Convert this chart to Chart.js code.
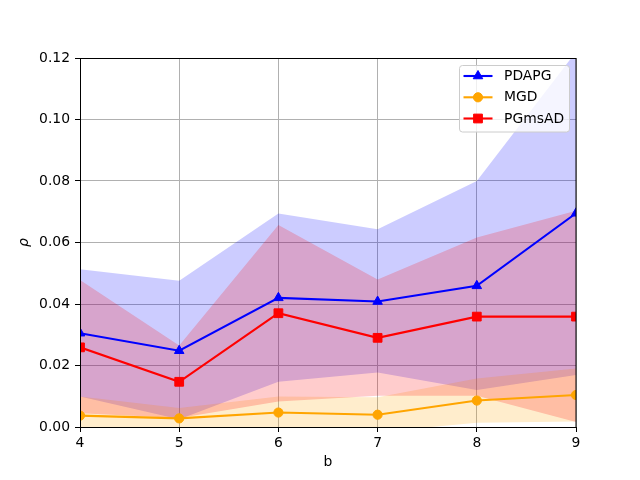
<!DOCTYPE html>
<html>
<head>
<meta charset="utf-8">
<script src="https://cdn.jsdelivr.net/npm/chart.js@4"></script>
<style>
html,body{margin:0;padding:0;background:#fff;}
#wrap{width:640px;height:480px;}
</style>
</head>
<body>
<div id="wrap"><canvas id="c" width="640" height="480"></canvas></div>
<script>
// ---- data ----
const bValues = [4, 5, 6, 7, 8, 9];
const seriesNames = ['PDAPG', 'MGD', 'PGmsAD'];

const pdapgMean  = [0.0305, 0.0248, 0.0420, 0.0408, 0.0459, 0.0695];
const pdapgUpper = [0.0513, 0.0476, 0.0694, 0.0643, 0.0800, 0.1220];
const pdapgLower = [0.0099, 0.0025, 0.0147, 0.0177, 0.0120, 0.0169];

const mgdMean  = [0.0037, 0.0028, 0.0047, 0.0040, 0.0086, 0.0104];
const mgdUpper = [0.0099, 0.0062, 0.0099, 0.0097, 0.0158, 0.0190];
const mgdLower = [-0.0025, -0.0006, -0.0005, -0.0017, 0.0014, 0.0018];

const pgmsadMean  = [0.0259, 0.0147, 0.0370, 0.0290, 0.0359, 0.0359];
const pgmsadUpper = [0.0478, 0.0265, 0.0657, 0.0480, 0.0616, 0.0703];
const pgmsadLower = [0.0045, 0.0029, 0.0083, 0.0102, 0.0102, 0.0016];

const xTicks = [4, 5, 6, 7, 8, 9];
const yTicks = [0.00, 0.02, 0.04, 0.06, 0.08, 0.10, 0.12];
const xTitle = 'b';
const yTitle = 'ρ';

// ---- styling ----
const colors = ['#0000ff', '#ffa500', '#ff0000'];
const fills  = ['rgba(0,0,255,0.2)', 'rgba(255,165,0,0.2)', 'rgba(255,0,0,0.2)'];
const markers = ['triangle', 'circle', 'rect'];
const markerR = [5.5, 4.6, 6.2];
const FONT = 'DejaVu Sans';

function pts(arr) { return bValues.map((x, i) => ({x: x, y: arr[i]})); }

const means  = [pdapgMean, mgdMean, pgmsadMean];
const uppers = [pdapgUpper, mgdUpper, pgmsadUpper];
const lowers = [pdapgLower, mgdLower, pgmsadLower];

const datasets = [];
// line datasets: indices 0..2 (red drawn on top)
for (let s = 0; s < 3; s++) {
  datasets.push({
    label: seriesNames[s],
    data: pts(means[s]),
    borderColor: colors[s],
    backgroundColor: colors[s],
    borderWidth: 2.1,
    pointStyle: markers[s],
    pointRadius: markerR[s],
    pointBorderWidth: 1,
    pointBorderColor: colors[s],
    pointBackgroundColor: colors[s],
    fill: false,
    tension: 0,
    order: 2 - s
  });
}
// band datasets: upper at 3+2s, lower at 4+2s
for (let s = 0; s < 3; s++) {
  const loIdx = 4 + 2 * s;
  datasets.push({
    label: seriesNames[s] + ' upper',
    data: pts(uppers[s]),
    borderColor: 'rgba(0,0,0,0)',
    borderWidth: 0,
    pointRadius: 0,
    backgroundColor: fills[s],
    fill: {target: loIdx},
    tension: 0,
    order: 10 - s
  });
  datasets.push({
    label: seriesNames[s] + ' lower',
    data: pts(lowers[s]),
    borderColor: 'rgba(0,0,0,0)',
    borderWidth: 0,
    pointRadius: 0,
    fill: false,
    tension: 0,
    order: 10 - s
  });
}

const framePlugin = {
  id: 'frame',
  afterDraw(chart) {
    const ctx = chart.ctx, a = chart.chartArea;
    ctx.save();
    ctx.strokeStyle = '#000';
    ctx.lineWidth = 1;
    ctx.strokeRect(Math.round(a.left) + 0.5, Math.round(a.top) + 0.5,
                   Math.round(a.right - a.left) - 0.5, Math.round(a.bottom - a.top));
    // legend
    const lx = 459.5, ly = 65.5, lw = 110, lh = 66.5, r = 3;
    ctx.fillStyle = 'rgba(255,255,255,0.8)';
    ctx.strokeStyle = '#cccccc';
    ctx.beginPath();
    ctx.moveTo(lx + r, ly);
    ctx.lineTo(lx + lw - r, ly); ctx.quadraticCurveTo(lx + lw, ly, lx + lw, ly + r);
    ctx.lineTo(lx + lw, ly + lh - r); ctx.quadraticCurveTo(lx + lw, ly + lh, lx + lw - r, ly + lh);
    ctx.lineTo(lx + r, ly + lh); ctx.quadraticCurveTo(lx, ly + lh, lx, ly + lh - r);
    ctx.lineTo(lx, ly + r); ctx.quadraticCurveTo(lx, ly, lx + r, ly);
    ctx.closePath();
    ctx.fill(); ctx.stroke();
    const rows = [76, 97.3, 118.5];
    ctx.font = '13.9px "' + FONT + '"';
    ctx.textBaseline = 'middle';
    ctx.textAlign = 'left';
    for (let s = 0; s < 3; s++) {
      const y = rows[s];
      ctx.strokeStyle = colors[s];
      ctx.lineWidth = 2.1;
      ctx.beginPath(); ctx.moveTo(463.5, y); ctx.lineTo(492.5, y); ctx.stroke();
      ctx.save();
      ctx.fillStyle = colors[s];
      ctx.strokeStyle = colors[s];
      ctx.lineWidth = 1;
      Chart.helpers.drawPoint(ctx, {pointStyle: markers[s], radius: markerR[s], rotation: 0, borderWidth: 1}, 478, y);
      ctx.restore();
      ctx.fillStyle = '#000';
      ctx.fillText(seriesNames[s], 504, y + 0.5);
    }
    ctx.restore();
  }
};

new Chart(document.getElementById('c'), {
  type: 'line',
  data: {datasets: datasets},
  plugins: [framePlugin],
  options: {
    responsive: false,
    animation: false,
    devicePixelRatio: 1,
    layout: {padding: {left: 0, top: 58, right: 64, bottom: 0}},
    plugins: {
      legend: {display: false},
      tooltip: {enabled: false},
      filler: {drawTime: 'beforeDatasetsDraw', propagate: false}
    },
    scales: {
      x: {
        type: 'linear',
        min: 4, max: 9,
        afterFit(scale) { scale.height = 53; },
        afterBuildTicks(scale) { scale.ticks = xTicks.map(v => ({value: v})); },
        ticks: {
          color: '#000',
          font: {family: FONT, size: 13.9},
          padding: 3,
          maxRotation: 0,
          callback: v => String(v)
        },
        grid: {color: '#b0b0b0', lineWidth: 1, tickColor: '#000', tickLength: 5, drawTicks: true},
        border: {display: true, color: '#000'},
        title: {display: true, text: xTitle, color: '#000', font: {family: FONT, size: 13.9}, padding: {top: 2, bottom: 9}}
      },
      y: {
        type: 'linear',
        min: 0, max: 0.12,
        afterFit(scale) { scale.width = 80; },
        afterBuildTicks(scale) { scale.ticks = yTicks.map(v => ({value: v})); },
        ticks: {
          color: '#000',
          font: {family: FONT, size: 13.9},
          padding: 5,
          callback: v => Number(v).toFixed(2)
        },
        grid: {color: '#b0b0b0', lineWidth: 1, tickColor: '#000', tickLength: 5, drawTicks: true},
        border: {display: true, color: '#000'},
        title: {display: true, text: yTitle, color: '#000', font: {family: FONT, size: 13.9, style: 'italic'}, padding: {top: 16, bottom: 0}}
      }
    }
  }
});
</script>
</body>
</html>
